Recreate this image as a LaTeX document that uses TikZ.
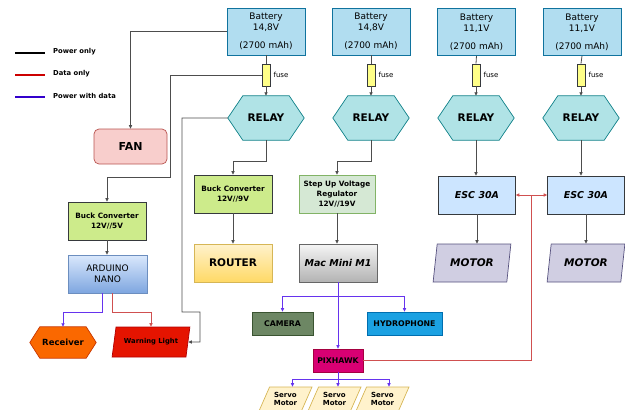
\documentclass[tikz,border=0pt]{standalone}
\usepackage{fontspec}
\setmainfont{DejaVu Sans}
\usetikzlibrary{shapes.geometric,backgrounds,arrows.meta,calc}
\definecolor{batfill}{HTML}{B1DDF0}
\definecolor{batdraw}{HTML}{10739E}
\definecolor{fusefill}{HTML}{FFFF88}
\definecolor{darkline}{HTML}{36393D}
\definecolor{relayfill}{HTML}{B0E3E6}
\definecolor{relaydraw}{HTML}{0E8088}
\definecolor{fanfill}{HTML}{F8CECC}
\definecolor{fandraw}{HTML}{B85450}
\definecolor{buckfill}{HTML}{CDEB8B}
\definecolor{stepfill}{HTML}{D5E8D4}
\definecolor{stepdraw}{HTML}{82B366}
\definecolor{ardtop}{HTML}{DAE8FC}
\definecolor{ardbot}{HTML}{7EA6E0}
\definecolor{arddraw}{HTML}{6C8EBF}
\definecolor{routtop}{HTML}{FFF2CC}
\definecolor{routbot}{HTML}{FFD966}
\definecolor{routdraw}{HTML}{D6B656}
\definecolor{mactop}{HTML}{F5F5F5}
\definecolor{macbot}{HTML}{B3B3B3}
\definecolor{macdraw}{HTML}{666666}
\definecolor{escfill}{HTML}{CCE5FF}
\definecolor{motfill}{HTML}{D0CEE2}
\definecolor{motdraw}{HTML}{56517E}
\definecolor{recfill}{HTML}{FA6800}
\definecolor{recdraw}{HTML}{C73500}
\definecolor{warnfill}{HTML}{E51400}
\definecolor{warndraw}{HTML}{B20000}
\definecolor{camfill}{HTML}{6D8764}
\definecolor{camdraw}{HTML}{3A5431}
\definecolor{hydfill}{HTML}{1BA1E2}
\definecolor{hyddraw}{HTML}{006EAF}
\definecolor{pixfill}{HTML}{D80073}
\definecolor{pixdraw}{HTML}{A50040}
\definecolor{servofill}{HTML}{FFF2CC}
\definecolor{lg}{HTML}{4D4D4D}
\definecolor{redln}{HTML}{D05050}
\definecolor{blueln}{HTML}{6633EE}
\definecolor{legred}{HTML}{CC0000}
\definecolor{legblue}{HTML}{3300CC}
\newcommand{\hexpath}[3]{\path[#3] (#1.west) -- ([xshift=#2pt]#1.north west) -- ([xshift=-#2pt]#1.north east) -- (#1.east) -- ([xshift=-#2pt]#1.south east) -- ([xshift=#2pt]#1.south west) -- cycle;}
\begin{document}
\begin{tikzpicture}[x=1pt,y=-1pt,
  every node/.style={inner sep=1pt, align=center, text=black},
  bx/.style={draw, rectangle, line width=0.7pt},
  ln/.style={draw=lg, line width=0.8pt},
  bl/.style={draw=blueln, line width=0.8pt},
  rd/.style={draw=redln, line width=0.8pt},
  ar/.style={-{Triangle[length=3.5pt,width=3.2pt]}},
  para/.style={trapezium, trapezium stretches=true, draw, line width=0.7pt},
  battery/.style={bx, fill=batfill, draw=batdraw, minimum width=78, minimum height=47, font=\fontsize{9}{11}\selectfont},
  fusebox/.style={bx, fill=fusefill, draw=darkline, minimum width=8, minimum height=22, inner sep=0pt},
  fuselabel/.style={anchor=west, font=\fontsize{7}{8}\selectfont},
  relay/.style={minimum width=76, minimum height=44, font=\bfseries\fontsize{10.5}{12}\selectfont},
  relayshape/.style={fill=relayfill, draw=relaydraw, line width=0.7pt},
  conv/.style={bx, minimum width=78, minimum height=38, font=\bfseries\fontsize{7.3}{10}\selectfont},
  esc/.style={bx, fill=escfill, draw=darkline, minimum width=77, minimum height=38, font=\bfseries\itshape\fontsize{9.5}{11}\selectfont},
  motor/.style={para, trapezium left angle=75, trapezium right angle=105, fill=motfill, draw=motdraw, minimum width=78, minimum height=38, font=\bfseries\itshape\fontsize{10.5}{12}\selectfont},
  servo/.style={para, trapezium left angle=62, trapezium right angle=118, fill=servofill, draw=routdraw, minimum width=53, minimum height=24, font=\bfseries\fontsize{7}{8.5}\selectfont},
  small/.style={bx, minimum height=23, font=\bfseries\fontsize{7.8}{9}\selectfont},
  legtext/.style={anchor=west, font=\bfseries\fontsize{6.8}{8}\selectfont}
]
\useasboundingbox (0,0) rectangle (625,410);

% legend
\coordinate (la1) at (15,53); \coordinate (lb1) at (45,53);
\coordinate (la2) at (15,75); \coordinate (lb2) at (45,75);
\coordinate (la3) at (15,97); \coordinate (lb3) at (45,97);
\draw[line width=2pt, black] (la1) -- (lb1);
\draw[line width=2pt, legred] (la2) -- (lb2);
\draw[line width=2pt, legblue] (la3) -- (lb3);
\node[legtext] (lt1) at (52,52) {Power only};
\node[legtext] (lt2) at (52,74) {Data only};
\node[legtext] (lt3) at (52,96) {Power with data};

% batteries
\node[battery] (b1) at (266,31.5) {Battery\\14,8V\\[7pt](2700 mAh)};
\node[battery] (b2) at (371,31.5) {Battery\\14,8V\\[7pt](2700 mAh)};
\node[battery] (b3) at (476.5,32) {Battery\\11,1V\\[7pt](2700 mAh)};
\node[battery] (b4) at (582,32) {Battery\\11,1V\\[7pt](2700 mAh)};

% fuses
\node[fusebox] (f1) at (266,75) {};
\node[fusebox] (f2) at (371,75) {};
\node[fusebox] (f3) at (476,75) {};
\node[fusebox] (f4) at (581,75) {};
\node[fuselabel] (fl1) at ([xshift=2pt]f1.east) {fuse};
\node[fuselabel] (fl2) at ([xshift=2pt]f2.east) {fuse};
\node[fuselabel] (fl3) at ([xshift=2pt]f3.east) {fuse};
\node[fuselabel] (fl4) at ([xshift=2pt]f4.east) {fuse};

% relays
\node[relay] (r1) at (266,118) {RELAY};
\node[relay] (r2) at (371,118) {RELAY};
\node[relay] (r3) at (476,118) {RELAY};
\node[relay] (r4) at (581,118) {RELAY};

% left column
\node[bx, rounded corners=5pt, fill=fanfill, draw=fandraw, minimum width=73, minimum height=35, font=\bfseries\fontsize{11}{13}\selectfont] (fan) at (130.5,146.5) {FAN};
\node[conv, fill=buckfill, draw=darkline] (bk1) at (107,221) {Buck Converter\\12V//5V};
\node[bx, top color=ardtop, bottom color=ardbot, draw=arddraw, minimum width=79, minimum height=38, font=\fontsize{9}{11}\selectfont] (ard) at (107.5,274) {ARDUINO\\NANO};
\node[minimum width=66, minimum height=31, font=\bfseries\fontsize{8.5}{10}\selectfont] (recv) at (63,342.5) {Receiver};
\node[para, trapezium left angle=70, trapezium right angle=110, fill=warnfill, draw=warndraw, minimum width=78, minimum height=30, font=\bfseries\fontsize{6.8}{8}\selectfont] (warn) at (151,342) {Warning Light};

% middle columns
\node[conv, fill=buckfill, draw=darkline] (bk2) at (233,194) {Buck Converter\\12V//9V};
\node[bx, top color=routtop, bottom color=routbot, draw=routdraw, minimum width=78, minimum height=38, font=\bfseries\fontsize{10.5}{12}\selectfont] (router) at (233,263) {ROUTER};
\node[conv, fill=stepfill, draw=stepdraw, minimum width=76] (step) at (337,194) {Step Up Voltage\\Regulator\\12V//19V};
\node[bx, top color=mactop, bottom color=macbot, draw=macdraw, minimum width=78, minimum height=38, font=\bfseries\itshape\fontsize{9.5}{11}\selectfont] (mac) at (338,263) {Mac Mini M1};

% right columns
\node[esc] (esc1) at (477,195) {ESC 30A};
\node[esc] (esc2) at (586,195) {ESC 30A};
\node[motor] (m1) at (472,263) {MOTOR};
\node[motor] (m2) at (586,263) {MOTOR};

% bottom
\node[small, fill=camfill, draw=camdraw, minimum width=61] (cam) at (282.5,323.5) {CAMERA};
\node[small, fill=hydfill, draw=hyddraw, minimum width=75] (hyd) at (404.5,323.5) {HYDROPHONE};
\node[small, fill=pixfill, draw=pixdraw, minimum width=50] (pix) at (338,360.5) {PIXHAWK};
\node[servo] (s1) at (285.5,399) {Servo\\Motor};
\node[servo] (s2) at (334.5,399) {Servo\\Motor};
\node[servo] (s3) at (382.5,399) {Servo\\Motor};

% hexagon outlines
\begin{scope}[on background layer]
\hexpath{r1}{15}{relayshape}
\hexpath{r2}{15}{relayshape}
\hexpath{r3}{15}{relayshape}
\hexpath{r4}{15}{relayshape}
\hexpath{recv}{10}{fill=recfill, draw=recdraw, line width=0.7pt}
\end{scope}

% power connectors
\foreach \i in {1,2,3,4}{
  \draw[ln] (b\i.south) -- (f\i.north);
  \draw[ln,ar] (f\i.south) -- (r\i.north);
}
\draw[ln,ar] (b1.west) -| (fan.north);
\coordinate (k1) at (170,177);
\draw[ln,ar] (f1.west) -| (k1) -| (bk1.north);
\coordinate (k2) at (182,312);
\coordinate (k3) at (200,342);
\draw[ln,ar] (r1.west) -| (k2) -| (k3) -- (warn.east);
\draw[ln,ar] (r1.south) |- ($(bk2.north)+(0,-13)$) -- (bk2.north);
\draw[ln,ar] (r2.south) |- ($(step.north)+(0,-13)$) -- (step.north);
\draw[ln,ar] (r3.south) -- (r3.south |- esc1.north);
\draw[ln,ar] (r4.south) -- (r4.south |- esc2.north);
\draw[ln,ar] (bk1.south) -- (bk1.south |- ard.north);
\draw[ln,ar] (bk2.south) -- (router.north);
\draw[ln,ar] (step.south) -- (step.south |- mac.north);
\draw[ln,ar] (esc1.south) -- (esc1.south |- m1.north);
\draw[ln,ar] (esc2.south) -- (esc2.south |- m2.north);

% arduino outputs
\draw[bl,ar] ([xshift=-5pt]ard.south) -- ++(0,19) -| (recv.north);
\draw[rd,ar] ([xshift=5pt]ard.south) -- ++(0,19) -| (warn.north);

% mac mini / pixhawk
\coordinate (k4) at (338,296);
\draw[bl,ar] (mac.south) -- (k4) -| (cam.north);
\draw[bl,ar] (k4) -| (hyd.north);
\draw[bl,ar] (k4) -- (pix.north);
\coordinate (k5) at (338,379);
\draw[bl,ar] (pix.south) -- (k5) -| ([xshift=7pt]s1.north);
\draw[bl,ar] (k5) -- (k5 |- s2.north);
\draw[bl,ar] (k5) -| ([xshift=6.5pt]s3.north);

% data to ESCs
\coordinate (k6) at (531,195);
\draw[rd] (pix.east) -| (k6);
\draw[rd,ar] (k6) -- (esc1.east);
\draw[rd,ar] (k6) -- (esc2.west);
\end{tikzpicture}
\end{document}
